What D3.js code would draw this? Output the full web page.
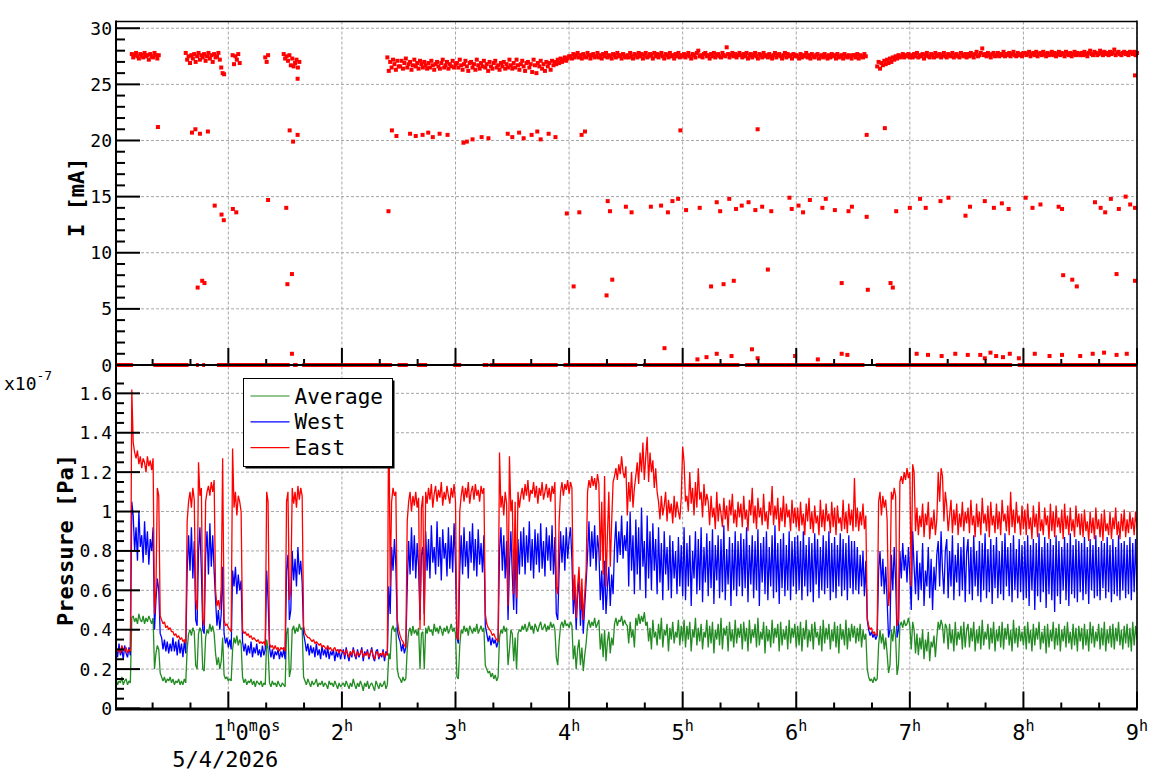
<!DOCTYPE html>
<html>
<head>
<meta charset="utf-8">
<script src="https://cdn.jsdelivr.net/npm/d3@7"></script>
<style>
  body { margin: 0; background: #fff; }
  text { font-family: "DejaVu Sans Mono", monospace; fill: #000; }
</style>
</head>
<body>
<svg id="chart" width="1158" height="782"></svg>
<script>
// everything read every 0.0125 h (45 s), first reading at 0.0125 h (hours after midnight)
const step = 0.0125, firstSample = 0.0125;
const _ = null;

// pressure, units of 1e-7 Pa, one line = half an hour
const eastP = [
  0.31,0.29,0.30,0.28,0.32,0.30,0.29,0.31,0.28,0.30,0.29,1.62,1.35,1.30,1.27,1.31,1.24,1.28,1.22,1.27,1.25,1.20,1.28,1.23,1.26,1.21,1.27,0.48,0.60,1.12,1.08,0.47,0.45,0.43,0.44,0.41,0.42,0.40,0.41,0.39,
  0.39,0.37,0.38,0.36,0.37,0.35,0.36,0.34,0.35,0.33,0.95,1.05,1.10,1.02,1.12,1.06,0.55,0.50,1.25,1.08,1.12,0.45,0.42,1.05,1.10,1.13,1.08,1.15,1.10,1.16,0.60,0.52,0.55,0.50,0.62,1.27,0.45,0.42,0.43,0.41,
  0.40,0.39,1.32,1.02,1.10,0.98,1.08,1.05,1.00,0.40,0.38,0.39,0.37,0.38,0.36,0.37,0.35,0.36,0.35,0.34,0.35,0.33,0.34,0.33,0.34,0.32,1.10,1.05,0.33,0.31,0.32,0.30,0.32,0.30,0.31,0.29,0.31,0.30,0.31,0.29,
  1.05,1.10,0.55,0.60,1.12,1.04,1.10,1.02,1.13,1.06,1.12,1.08,0.42,0.38,0.37,0.36,0.36,0.35,0.34,0.35,0.33,0.34,0.33,0.32,0.33,0.31,0.32,0.31,0.30,0.32,0.30,0.31,0.29,0.30,0.31,0.29,0.30,0.28,0.30,0.29,
  0.29,0.27,0.30,0.28,0.26,0.29,0.27,0.30,0.28,0.26,0.29,0.27,0.28,0.30,0.26,0.28,0.27,0.29,0.26,0.28,0.30,0.27,0.25,0.28,0.29,0.26,0.28,0.27,0.29,0.26,0.28,0.27,1.62,0.62,1.05,1.12,1.08,1.10,0.45,0.40,
  0.37,0.35,0.34,0.32,0.31,0.95,1.05,1.10,1.00,1.08,1.03,1.10,1.02,1.07,0.40,1.02,1.08,0.42,1.10,1.04,1.12,1.06,1.14,1.02,1.09,1.13,1.05,1.11,1.07,1.15,1.03,1.10,1.06,1.13,1.08,1.04,1.12,1.07,1.14,1.05,
  0.36,0.35,1.00,1.08,1.13,1.05,1.12,1.07,1.15,1.04,1.10,1.13,1.06,1.14,1.08,1.11,1.05,1.13,1.09,1.12,0.48,0.43,0.41,0.40,0.39,0.37,0.38,0.36,0.35,0.34,1.30,1.02,1.08,0.98,1.10,1.04,0.52,1.28,1.00,1.06,
  0.58,1.05,0.56,1.10,1.02,1.08,1.12,1.06,1.14,1.08,1.16,1.05,1.11,1.09,1.15,1.07,1.13,1.04,1.12,1.08,1.15,1.06,1.10,1.14,1.07,1.12,1.05,1.13,1.09,1.15,0.62,0.58,0.95,1.10,1.15,1.08,1.14,1.11,1.16,1.09,
  1.15,1.12,0.55,0.68,0.46,0.62,0.72,0.50,0.66,0.45,0.58,0.70,1.10,1.16,1.12,1.18,1.13,1.17,1.11,1.19,1.14,0.75,1.05,0.68,1.18,0.62,0.88,1.10,0.72,0.95,1.15,1.18,1.22,1.16,1.24,1.19,1.28,1.20,1.17,1.23,
  0.98,1.15,1.05,1.20,1.02,1.12,1.18,1.25,1.14,1.30,1.20,1.35,1.16,1.28,1.38,1.15,1.30,1.20,1.26,1.12,1.22,1.10,1.05,0.96,1.08,0.98,1.03,1.10,0.95,1.06,0.99,1.04,0.94,1.08,0.97,1.05,1.00,0.96,1.07,1.33,
  1.25,1.05,1.08,1.00,1.20,1.04,1.12,0.98,1.15,1.02,1.22,1.06,1.10,0.97,1.14,1.03,1.09,1.05,0.93,1.08,0.97,1.02,0.91,1.10,0.95,1.04,0.99,0.92,1.07,0.96,1.03,0.90,1.06,0.98,1.09,0.94,1.01,0.92,1.05,0.97,
  1.04,0.92,1.08,0.96,1.01,0.90,1.06,0.98,1.12,0.94,1.03,0.91,1.07,0.97,1.02,0.93,1.09,0.95,1.00,0.91,1.05,0.98,1.13,0.93,1.03,0.96,1.07,0.90,1.02,0.95,1.08,0.92,1.04,0.97,1.01,0.90,1.06,0.94,1.02,0.92,
  1.02,0.90,1.05,0.93,0.99,0.88,1.04,0.95,1.07,0.91,1.00,0.89,1.03,0.94,0.98,0.88,1.06,0.92,1.01,0.90,1.04,0.95,0.99,0.89,1.05,0.92,1.02,0.88,1.03,0.94,0.97,0.90,1.06,0.91,1.00,0.89,1.04,0.93,1.01,0.90,
  1.17,0.92,1.02,0.90,1.00,0.93,1.04,0.91,0.98,0.46,0.42,0.40,0.41,0.38,0.39,0.37,0.38,1.05,1.10,0.98,1.08,1.02,1.06,0.96,0.52,0.60,1.10,1.06,1.12,1.08,0.42,0.45,1.15,1.18,1.14,1.20,1.16,1.22,1.17,1.20,
  0.62,1.24,1.20,0.90,1.02,0.88,0.98,0.92,1.04,0.87,0.99,0.93,1.05,0.86,0.97,0.91,1.01,0.88,0.96,1.20,1.05,1.22,1.18,0.95,1.10,1.03,0.90,0.98,1.06,0.89,1.01,0.93,1.04,0.88,0.99,0.92,1.05,0.90,1.00,0.94,
  1.02,0.89,1.06,0.93,0.98,0.87,1.04,0.92,1.00,0.88,1.07,0.94,0.99,0.90,1.03,0.87,1.05,0.93,0.98,0.89,1.04,0.91,1.00,0.88,1.06,0.95,0.99,0.90,1.03,0.88,1.10,0.92,1.01,0.89,1.05,0.94,0.98,0.88,1.03,0.91,
  1.01,0.88,1.04,0.91,0.97,0.86,1.03,0.92,0.99,0.87,1.05,0.90,0.96,0.88,1.02,0.93,0.98,0.86,1.04,0.90,1.00,0.87,1.03,0.92,0.97,0.89,1.01,0.86,1.04,0.91,0.98,0.88,1.02,0.90,0.96,0.87,1.03,0.92,0.99,0.88,
  0.99,0.87,1.01,0.90,0.95,0.85,1.00,0.89,0.97,0.86,1.02,0.91,0.96,0.87,0.99,0.85,1.01,0.90,0.94,0.88,1.00,0.86,0.97,0.91,1.02,0.88,0.95,0.86,0.99,0.90,1.01,0.87,0.96,0.89,1.00,0.91,0.97,0.88,1.00,0.92
];
const westP = [
  0.31,0.26,0.33,0.27,0.30,0.25,0.32,0.28,0.26,0.31,0.27,1.05,0.98,0.80,0.92,0.75,1.00,0.82,0.88,0.74,0.95,0.78,0.90,0.73,0.86,0.80,0.92,0.40,0.55,0.66,0.60,0.38,0.36,0.30,0.35,0.29,0.34,0.28,0.33,0.29,
  0.36,0.29,0.34,0.27,0.35,0.28,0.33,0.26,0.34,0.28,0.70,0.88,0.70,0.92,0.66,0.85,0.45,0.42,0.80,0.92,0.70,0.40,0.38,0.78,0.90,0.68,0.94,0.72,0.88,0.70,0.55,0.42,0.50,0.40,0.48,0.72,0.38,0.33,0.36,0.31,
  0.35,0.30,0.70,0.62,0.72,0.58,0.68,0.60,0.65,0.34,0.29,0.33,0.27,0.32,0.28,0.34,0.26,0.31,0.28,0.33,0.27,0.30,0.26,0.32,0.27,0.30,0.70,0.55,0.31,0.26,0.30,0.25,0.29,0.27,0.30,0.25,0.29,0.26,0.30,0.25,
  0.70,0.78,0.45,0.50,0.80,0.65,0.76,0.62,0.82,0.68,0.75,0.64,0.38,0.34,0.29,0.33,0.27,0.32,0.28,0.31,0.26,0.33,0.27,0.30,0.25,0.32,0.27,0.30,0.26,0.31,0.25,0.29,0.27,0.30,0.24,0.29,0.26,0.30,0.25,0.28,
  0.30,0.25,0.31,0.27,0.24,0.29,0.26,0.31,0.27,0.25,0.30,0.26,0.28,0.31,0.24,0.29,0.27,0.30,0.25,0.28,0.31,0.26,0.24,0.29,0.30,0.25,0.28,0.26,0.30,0.24,0.29,0.27,0.62,0.48,0.82,0.70,0.86,0.72,0.40,0.36,
  0.34,0.29,0.33,0.28,0.31,0.62,0.85,0.68,0.92,0.70,0.88,0.66,0.84,0.72,0.45,0.78,0.82,0.48,0.90,0.70,0.86,0.66,0.93,0.74,0.82,0.68,0.95,0.72,0.87,0.65,0.91,0.76,0.84,0.67,0.92,0.71,0.88,0.69,0.94,0.73,
  0.36,0.33,0.70,0.88,0.68,0.92,0.72,0.85,0.66,0.90,0.74,0.94,0.70,0.86,0.67,0.91,0.73,0.84,0.69,0.88,0.42,0.38,0.34,0.37,0.32,0.36,0.33,0.35,0.31,0.34,0.80,0.92,0.70,0.88,0.66,0.85,0.45,0.72,0.90,0.68,
  0.50,0.82,0.48,0.86,0.68,0.90,0.72,0.92,0.68,0.88,0.74,0.95,0.70,0.86,0.66,0.91,0.73,0.89,0.69,0.94,0.71,0.85,0.67,0.92,0.75,0.88,0.70,0.93,0.68,0.87,0.48,0.45,0.70,0.90,0.74,0.88,0.70,0.92,0.76,0.86,
  0.92,0.75,0.48,0.62,0.40,0.58,0.65,0.42,0.60,0.38,0.52,0.64,0.78,0.95,0.72,0.90,0.76,0.93,0.70,0.88,0.80,0.55,0.70,0.50,0.75,0.48,0.62,0.72,0.52,0.68,0.58,0.82,0.95,0.74,0.90,0.78,0.98,0.76,0.88,0.80,
  0.95,0.62,1.00,0.70,0.88,0.58,0.96,0.68,0.92,0.60,1.02,0.72,0.85,0.56,0.98,0.66,0.90,0.60,0.94,0.70,0.86,0.58,0.92,0.64,0.84,0.55,0.90,0.68,0.82,0.60,0.88,0.56,0.85,0.66,0.80,0.58,0.87,0.62,0.83,0.57,
  0.92,0.55,0.84,0.62,0.88,0.52,0.80,0.66,0.90,0.58,0.86,0.60,0.92,0.54,0.82,0.64,0.89,0.57,0.85,0.61,0.91,0.53,0.83,0.65,0.88,0.56,0.86,0.59,0.93,0.55,0.81,0.63,0.87,0.52,0.84,0.60,0.90,0.57,0.85,0.62,
  0.89,0.57,0.86,0.61,0.92,0.54,0.83,0.63,0.88,0.56,0.85,0.60,0.91,0.52,0.84,0.64,0.87,0.58,0.90,0.55,0.82,0.62,0.88,0.56,0.93,0.59,0.84,0.53,0.86,0.61,0.89,0.57,0.83,0.60,0.90,0.55,0.85,0.62,0.87,0.58,
  0.88,0.60,0.85,0.55,0.90,0.62,0.83,0.57,0.87,0.59,0.84,0.54,0.89,0.63,0.86,0.56,0.82,0.60,0.88,0.58,0.85,0.61,0.90,0.55,0.84,0.59,0.87,0.56,0.83,0.62,0.89,0.57,0.86,0.60,0.84,0.55,0.88,0.61,0.85,0.58,
  0.85,0.60,0.82,0.58,0.78,0.62,0.80,0.57,0.75,0.45,0.40,0.37,0.39,0.36,0.38,0.35,0.37,0.70,0.80,0.62,0.76,0.58,0.72,0.55,0.36,0.40,0.78,0.60,0.82,0.65,0.36,0.40,0.80,0.66,0.84,0.70,0.78,0.64,0.82,0.68,
  0.50,0.90,0.72,0.58,0.80,0.55,0.74,0.60,0.84,0.52,0.70,0.62,0.82,0.56,0.76,0.50,0.72,0.60,0.78,0.85,0.62,0.90,0.70,0.58,0.80,0.86,0.56,0.80,0.62,0.88,0.55,0.78,0.64,0.84,0.57,0.82,0.60,0.87,0.54,0.79,
  0.86,0.58,0.82,0.55,0.88,0.62,0.80,0.57,0.85,0.54,0.84,0.60,0.89,0.56,0.81,0.59,0.86,0.53,0.83,0.61,0.87,0.56,0.80,0.58,0.85,0.55,0.89,0.62,0.82,0.57,0.84,0.54,0.88,0.60,0.81,0.56,0.86,0.59,0.83,0.55,
  0.85,0.56,0.88,0.52,0.83,0.60,0.86,0.50,0.84,0.57,0.89,0.54,0.82,0.59,0.87,0.51,0.84,0.58,0.86,0.55,0.83,0.49,0.88,0.57,0.85,0.53,0.82,0.60,0.87,0.55,0.84,0.52,0.89,0.58,0.83,0.56,0.86,0.54,0.85,0.59,
  0.84,0.55,0.87,0.58,0.82,0.53,0.86,0.60,0.83,0.56,0.88,0.57,0.82,0.55,0.85,0.61,0.84,0.56,0.87,0.59,0.83,0.54,0.86,0.58,0.82,0.57,0.88,0.55,0.84,0.60,0.85,0.56,0.83,0.58,0.87,0.55,0.84,0.59,0.86,0.60
];
const avgP = [
  0.15,0.12,0.14,0.13,0.16,0.12,0.14,0.15,0.12,0.14,0.13,0.46,0.47,0.44,0.46,0.43,0.48,0.45,0.44,0.47,0.43,0.46,0.44,0.47,0.45,0.43,0.46,0.20,0.28,0.32,0.30,0.18,0.16,0.14,0.16,0.13,0.15,0.14,0.16,0.13,
  0.15,0.12,0.14,0.13,0.15,0.12,0.14,0.12,0.15,0.13,0.30,0.38,0.40,0.37,0.41,0.39,0.22,0.20,0.38,0.41,0.39,0.20,0.19,0.36,0.40,0.38,0.43,0.39,0.42,0.38,0.28,0.22,0.26,0.20,0.24,0.36,0.17,0.15,0.16,0.14,
  0.15,0.14,0.30,0.36,0.33,0.37,0.32,0.35,0.33,0.16,0.13,0.15,0.12,0.14,0.13,0.15,0.12,0.14,0.11,0.14,0.13,0.12,0.14,0.11,0.13,0.12,0.35,0.30,0.13,0.11,0.14,0.12,0.13,0.11,0.14,0.12,0.11,0.13,0.12,0.11,
  0.38,0.41,0.16,0.20,0.40,0.42,0.38,0.41,0.39,0.43,0.40,0.41,0.16,0.14,0.12,0.15,0.13,0.11,0.14,0.12,0.13,0.15,0.11,0.13,0.12,0.14,0.11,0.13,0.12,0.10,0.14,0.12,0.13,0.11,0.14,0.12,0.10,0.13,0.11,0.12,
  0.13,0.11,0.14,0.12,0.10,0.13,0.11,0.15,0.12,0.10,0.13,0.11,0.14,0.12,0.09,0.13,0.11,0.14,0.10,0.12,0.13,0.11,0.09,0.14,0.12,0.10,0.13,0.11,0.12,0.14,0.10,0.12,0.28,0.25,0.40,0.42,0.39,0.41,0.20,0.16,
  0.15,0.13,0.16,0.14,0.15,0.30,0.39,0.41,0.37,0.42,0.38,0.40,0.37,0.41,0.20,0.38,0.39,0.20,0.41,0.38,0.42,0.39,0.40,0.37,0.43,0.39,0.41,0.38,0.42,0.40,0.37,0.41,0.39,0.42,0.38,0.40,0.43,0.39,0.41,0.38,
  0.16,0.15,0.32,0.40,0.38,0.42,0.39,0.41,0.37,0.42,0.40,0.38,0.41,0.39,0.43,0.38,0.40,0.42,0.39,0.41,0.22,0.20,0.18,0.19,0.16,0.18,0.15,0.17,0.14,0.16,0.36,0.40,0.38,0.42,0.39,0.41,0.22,0.30,0.40,0.38,
  0.24,0.36,0.20,0.38,0.40,0.39,0.42,0.40,0.43,0.39,0.41,0.44,0.40,0.42,0.38,0.43,0.41,0.39,0.42,0.44,0.40,0.41,0.43,0.39,0.42,0.40,0.44,0.41,0.43,0.40,0.26,0.22,0.34,0.42,0.44,0.41,0.45,0.42,0.43,0.41,
  0.44,0.42,0.25,0.32,0.20,0.30,0.35,0.22,0.31,0.19,0.27,0.33,0.42,0.45,0.41,0.44,0.42,0.46,0.41,0.43,0.45,0.30,0.38,0.26,0.40,0.24,0.34,0.39,0.28,0.36,0.32,0.43,0.46,0.42,0.45,0.44,0.47,0.42,0.45,0.43,
  0.42,0.33,0.44,0.36,0.40,0.31,0.46,0.42,0.48,0.43,0.47,0.44,0.49,0.42,0.44,0.34,0.41,0.30,0.45,0.36,0.39,0.32,0.43,0.35,0.46,0.31,0.40,0.37,0.43,0.29,0.41,0.35,0.44,0.33,0.39,0.36,0.45,0.32,0.42,0.34,
  0.45,0.31,0.42,0.35,0.44,0.29,0.40,0.36,0.46,0.32,0.41,0.34,0.43,0.30,0.39,0.36,0.45,0.31,0.42,0.33,0.44,0.28,0.40,0.35,0.43,0.32,0.46,0.30,0.41,0.37,0.42,0.29,0.44,0.34,0.40,0.31,0.45,0.33,0.41,0.36,
  0.43,0.30,0.44,0.34,0.41,0.29,0.45,0.33,0.40,0.36,0.43,0.31,0.46,0.32,0.39,0.35,0.44,0.28,0.42,0.34,0.40,0.31,0.45,0.33,0.41,0.36,0.43,0.29,0.44,0.32,0.40,0.35,0.42,0.30,0.45,0.33,0.41,0.36,0.43,0.31,
  0.42,0.32,0.44,0.29,0.41,0.35,0.45,0.31,0.40,0.34,0.43,0.30,0.44,0.36,0.39,0.32,0.42,0.29,0.45,0.33,0.41,0.35,0.43,0.30,0.40,0.34,0.44,0.31,0.42,0.28,0.43,0.35,0.40,0.32,0.45,0.30,0.41,0.34,0.43,0.36,
  0.42,0.33,0.41,0.34,0.43,0.31,0.40,0.35,0.38,0.20,0.16,0.14,0.15,0.13,0.16,0.14,0.15,0.32,0.40,0.33,0.38,0.30,0.36,0.28,0.18,0.22,0.40,0.34,0.42,0.36,0.17,0.22,0.42,0.44,0.41,0.45,0.42,0.43,0.46,0.42,
  0.30,0.44,0.40,0.28,0.38,0.27,0.36,0.30,0.40,0.25,0.35,0.29,0.39,0.24,0.34,0.31,0.37,0.26,0.36,0.44,0.40,0.45,0.42,0.33,0.43,0.41,0.30,0.43,0.33,0.40,0.29,0.44,0.32,0.39,0.35,0.42,0.30,0.44,0.31,0.40,
  0.43,0.31,0.41,0.34,0.44,0.29,0.40,0.33,0.42,0.30,0.45,0.32,0.39,0.35,0.43,0.30,0.41,0.33,0.44,0.29,0.40,0.34,0.42,0.31,0.44,0.30,0.41,0.35,0.43,0.32,0.40,0.29,0.45,0.33,0.41,0.31,0.42,0.34,0.39,0.32,
  0.42,0.30,0.44,0.33,0.40,0.29,0.43,0.32,0.41,0.35,0.44,0.30,0.39,0.33,0.42,0.28,0.43,0.31,0.40,0.34,0.44,0.30,0.41,0.32,0.43,0.29,0.40,0.34,0.42,0.31,0.44,0.33,0.39,0.30,0.43,0.32,0.41,0.29,0.42,0.34,
  0.41,0.30,0.43,0.32,0.40,0.29,0.44,0.33,0.42,0.31,0.39,0.34,0.43,0.30,0.41,0.32,0.44,0.29,0.40,0.33,0.42,0.31,0.43,0.30,0.41,0.34,0.44,0.32,0.40,0.30,0.42,0.33,0.43,0.31,0.41,0.29,0.44,0.32,0.42,0.35
];

// beam current [mA], null where no reading, one line = half an hour
const beamI = [
  _,_,_,_,_,_,_,_,_,_,_,27.7,27.4,27.6,27.8,27.5,27.3,27.7,27.6,27.4,27.8,27.5,27.6,27.2,27.7,27.5,27.4,27.8,27.6,27.3,27.6,_,_,_,_,_,_,_,_,_,
  _,_,_,_,_,_,_,_,_,27.8,27.2,27.5,26.9,27.6,27.3,27.7,27.0,27.5,27.8,27.2,27.6,27.4,27.7,27.1,27.5,27.8,27.3,27.6,27.0,27.7,27.4,27.5,27.8,27.2,26.5,26.0,25.9,_,_,_,
  _,_,27.6,26.8,27.5,27.2,27.7,26.9,_,_,_,_,_,_,_,_,_,_,_,_,_,_,_,_,_,27.4,27.0,27.6,_,_,_,_,_,_,_,_,_,_,27.7,27.3,
  27.5,27.1,27.6,26.7,27.3,26.6,26.9,27.2,26.5,27.0,_,_,_,_,_,_,_,_,_,_,_,_,_,_,_,_,_,_,_,_,_,_,_,_,_,_,_,_,_,_,
  _,_,_,_,_,_,_,_,_,_,_,_,_,_,_,_,_,_,_,_,_,_,_,_,_,_,_,_,_,_,_,27.4,26.2,27.0,26.5,27.2,26.8,26.3,27.1,26.6,
  26.6,27.1,26.4,26.9,27.3,26.5,26.8,27.0,26.3,26.7,27.2,26.6,26.9,26.4,27.1,26.8,26.5,27.0,26.7,26.4,26.9,26.5,27.1,26.7,26.3,26.8,27.0,26.6,26.4,26.9,27.2,26.5,26.7,27.0,26.4,26.8,26.6,27.1,26.5,26.8,
  26.9,26.5,27.2,26.7,26.3,26.8,27.1,26.6,26.2,26.9,27.0,26.5,26.8,26.3,27.2,26.7,26.4,26.9,26.6,27.1,26.5,26.8,26.2,27.0,26.6,26.4,26.9,27.1,26.5,26.7,26.3,26.9,26.6,27.0,26.4,26.8,26.5,27.2,26.7,26.4,
  26.9,26.5,27.2,26.7,26.3,26.8,27.1,26.6,26.2,26.9,27.0,26.5,26.8,26.1,27.2,26.7,26.0,26.9,26.6,27.1,26.4,26.8,26.2,27.0,26.6,26.9,26.3,27.1,26.7,27.0,26.8,27.2,26.9,27.3,27.0,27.2,27.4,27.1,27.3,27.5,
  27.5,27.3,27.7,27.4,27.6,27.8,27.4,27.6,27.3,27.7,27.5,27.4,27.8,27.6,27.3,27.6,27.7,27.4,27.5,27.8,27.4,27.6,27.3,27.7,27.5,27.8,27.4,27.6,27.5,27.3,27.7,27.6,27.4,27.8,27.5,27.6,27.3,27.7,27.5,27.4,
  27.6,27.4,27.8,27.5,27.3,27.7,27.6,27.4,27.8,27.5,27.7,27.3,27.6,27.8,27.4,27.5,27.7,27.6,27.3,27.8,27.5,27.7,27.4,27.6,27.8,27.5,27.3,27.7,27.6,27.4,27.8,27.5,27.6,27.3,27.7,27.5,27.8,27.4,27.6,27.5,
  27.7,27.4,27.6,27.8,27.5,27.3,27.7,27.6,27.4,27.8,28.0,27.5,27.6,27.4,27.7,27.8,27.5,27.6,27.3,27.7,27.5,27.8,27.4,27.6,27.7,27.5,27.4,27.8,27.6,27.5,28.3,27.7,27.4,27.6,27.8,27.5,27.7,27.4,27.6,27.8,
  27.6,27.4,27.7,27.5,27.8,27.3,27.6,27.7,27.4,27.6,27.8,27.5,27.3,27.7,27.6,27.4,27.8,27.5,27.6,27.4,27.7,27.5,27.3,27.6,27.8,27.4,27.6,27.7,27.5,27.3,27.6,27.8,27.4,27.7,27.5,27.6,27.3,27.7,27.5,27.6,
  27.5,27.3,27.7,27.4,27.6,27.5,27.8,27.4,27.6,27.3,27.7,27.5,27.4,27.6,27.7,27.3,27.5,27.6,27.4,27.7,27.5,27.3,27.6,27.4,27.7,27.5,27.6,27.3,27.7,27.4,27.5,27.6,27.3,27.7,27.5,27.4,27.6,27.5,27.3,27.6,
  27.6,27.4,27.7,27.3,27.6,27.5,27.4,27.7,27.5,_,_,_,_,_,_,_,26.6,27.0,26.4,26.9,26.7,27.1,26.8,27.2,26.9,27.3,27.0,27.4,27.2,27.5,27.3,27.6,27.4,27.5,27.7,27.4,27.6,27.5,27.7,27.4,
  27.6,27.4,27.7,27.5,27.8,27.4,27.6,27.5,27.7,27.3,27.6,27.8,27.5,27.4,27.7,27.6,27.4,27.8,27.5,27.6,27.7,27.4,27.6,27.8,27.5,27.4,27.7,27.6,27.5,27.8,27.4,27.6,27.7,27.5,27.4,27.8,27.6,27.5,27.7,27.4,
  27.7,27.5,27.8,27.6,27.4,27.7,27.9,27.5,27.6,27.8,28.2,27.6,27.7,27.5,27.8,27.6,27.4,27.7,27.8,27.5,27.6,27.8,27.5,27.7,27.6,27.9,27.5,27.7,27.6,27.8,27.5,27.7,27.9,27.6,27.5,27.8,27.6,27.7,27.5,27.8,
  27.8,27.6,27.7,27.9,27.5,27.7,27.8,27.6,27.9,27.5,27.7,27.8,27.6,27.9,27.7,27.5,27.8,27.6,27.7,27.9,27.6,27.8,27.5,27.7,27.9,27.6,27.8,27.7,27.5,27.9,27.7,27.6,27.8,27.5,27.7,27.9,27.6,27.8,27.7,27.6,
  27.8,27.6,27.9,27.7,27.5,27.8,28.0,27.7,27.6,27.9,27.8,27.6,27.7,28.0,27.8,27.6,27.9,27.7,27.8,27.6,27.9,27.7,27.8,28.1,27.6,27.8,27.9,27.7,27.6,27.8,27.9,27.7,27.8,27.6,27.9,27.8,27.7,27.9,27.6,27.8
];

// isolated current readings off the main band
const strayT = [
  0.38,0.68,0.71,0.75,0.82,1.54,1.57,1.61,2.44,2.48,2.60,2.65,2.71,2.76,2.80,2.86,2.93,3.07,3.10,3.15,
  3.23,3.29,3.46,3.50,3.56,3.60,3.67,3.72,3.75,3.82,3.88,4.11,4.14,4.98,5.66,6.62,6.78,
  0.88,0.94,0.96,1.04,1.07,1.35,1.51,2.41,3.98,4.09,4.34,4.36,4.50,4.55,4.72,4.81,4.87,4.91,4.96,5.03,
  5.15,5.30,5.33,5.41,5.47,5.52,5.58,5.64,5.70,5.78,5.94,5.96,6.02,6.06,6.12,6.23,6.26,6.34,6.46,6.49,
  6.62,6.88,7.00,7.09,7.14,7.27,7.34,7.49,7.53,7.66,7.74,7.81,7.87,8.02,8.08,8.15,8.31,8.34,8.63,8.68,
  8.72,8.77,8.84,8.90,8.94,8.99,
  0.73,0.77,0.79,1.52,1.56,4.04,4.33,4.38,5.25,5.36,5.45,5.75,6.40,6.63,6.83,6.85,8.35,8.43,8.47,8.82,8.99,
  1.56,4.84,5.13,5.21,5.30,5.43,5.61,5.66,5.99,6.19,6.40,6.45,7.06,7.16,7.28,7.40,7.51,7.62,7.66,7.71,
  7.76,7.82,7.88,7.96,8.10,8.23,8.34,8.50,8.61,8.71,8.82,8.91,
  1.61,8.995
];
const strayI = [
  21.2,20.7,21.0,20.6,20.8,20.9,19.9,20.5,20.9,20.4,20.6,20.4,20.5,20.7,20.3,20.6,20.5,19.8,19.9,20.1,
  20.3,20.2,20.6,20.3,20.7,20.2,20.5,20.8,20.1,20.6,20.3,20.5,20.8,20.9,21.0,20.5,21.1,
  14.2,13.4,12.9,13.9,13.6,14.7,14.0,13.7,13.5,13.6,14.6,13.7,14.1,13.6,14.1,14.2,13.6,14.6,14.8,13.8,
  14.0,14.5,13.7,14.8,13.9,14.2,14.5,13.8,14.1,13.7,14.9,13.9,14.2,13.6,14.7,14.0,14.8,13.8,13.7,14.1,
  13.2,13.7,14.0,14.8,14.0,14.6,14.9,13.3,14.1,14.6,14.0,14.4,13.9,14.9,14.0,14.3,14.1,13.9,14.5,14.0,
  13.6,14.8,13.9,15.0,14.3,14.0,
  6.9,7.5,7.3,7.2,8.1,7.0,6.2,7.6,7.0,7.2,7.5,8.5,7.3,6.7,7.3,6.9,8.0,7.6,7.0,8.1,7.5,
  1.0,1.5,0.5,0.7,1.0,0.8,1.4,0.6,0.8,0.5,1.0,0.9,1.0,0.9,0.8,1.0,0.9,0.9,0.6,1.1,
  0.8,0.7,1.0,0.6,1.0,0.8,0.9,0.8,1.0,1.1,0.9,1.0,
  25.5,25.8
];

// stretches [from h, to h] where the current read zero
const zeroRuns = [
  [0.011,0.16],[0.34,0.65],[0.715,0.74],[0.77,0.795],[0.90,1.54],[1.57,1.61],[1.65,2.44],
  [2.49,2.58],[2.66,2.75],[2.98,3.05],[3.24,3.29],[3.30,3.90],[3.95,4.60],[4.65,5.50],
  [5.55,6.60],[6.70,7.90],[7.95,9.0]
];

const seriesNames = ['Average', 'West', 'East'];
const seriesColors = ['#228b22', '#0000ff', '#ff0000'];
const currentTicks = [0, 5, 10, 15, 20, 25, 30];
const pressureTicks = ['0', '0.2', '0.4', '0.6', '0.8', '1', '1.2', '1.4', '1.6'];
const hourTicks = [1, 2, 3, 4, 5, 6, 7, 8, 9];
const dateLabel = '5/4/2026';

const svg = d3.select('#chart');
const left = 116, right = 1137, topY = 21.5, midY = 365, botY = 708.5;

const x = d3.scaleLinear().domain([0.011, 9]).range([left, right]);
const yI = d3.scaleLinear().domain([0, 30.6]).range([midY, topY]);
const yP = d3.scaleLinear().domain([0, 1.65]).range([botY, 383.5]);
const sampleT = i => firstSample + i * step;

svg.append('rect').attr('width', 1158).attr('height', 782).attr('fill', '#fff');

// grid
const grid = svg.append('g')
  .attr('stroke', '#a6a6a6').attr('stroke-width', 1).attr('stroke-dasharray', '3,2');
hourTicks.forEach(h => {
  grid.append('line').attr('x1', x(h)).attr('x2', x(h)).attr('y1', topY).attr('y2', botY);
});
currentTicks.forEach(v => {
  grid.append('line').attr('x1', left).attr('x2', right).attr('y1', yI(v)).attr('y2', yI(v));
});
pressureTicks.forEach(v => {
  grid.append('line').attr('x1', left).attr('x2', right).attr('y1', yP(+v)).attr('y2', yP(+v));
});

// top pad: beam current
const cur = svg.append('g').attr('fill', '#ff0000');
zeroRuns.forEach(([a, b]) => {
  cur.append('rect').attr('x', x(a)).attr('y', yI(0) - 2)
    .attr('width', x(b) - x(a)).attr('height', 4);
});
beamI.forEach((v, i) => {
  if (v === null) return;
  cur.append('rect').attr('x', x(sampleT(i)) - 2).attr('y', yI(v) - 2)
    .attr('width', 4).attr('height', 4);
});
strayT.forEach((t, i) => {
  cur.append('rect').attr('x', Math.min(x(t), right - 2) - 2).attr('y', yI(strayI[i]) - 2)
    .attr('width', 4).attr('height', 4);
});

// bottom pad: pressure
svg.append('clipPath').attr('id', 'pclip')
  .append('rect').attr('x', left).attr('y', midY).attr('width', right - left).attr('height', botY - midY);

const line = d3.line()
  .x((d, i) => x(sampleT(i)))
  .y(d => yP(d));

const lines = svg.append('g').attr('clip-path', 'url(#pclip)');
[avgP, westP, eastP].forEach((s, j) => {
  lines.append('path').datum(s)
    .attr('d', line)
    .attr('fill', 'none')
    .attr('stroke', seriesColors[j])
    .attr('stroke-width', 1.3)
    .attr('stroke-linejoin', 'bevel');
});

// frame and axes
const ax = svg.append('g').attr('stroke', '#000');
ax.append('line').attr('x1', left).attr('x2', left).attr('y1', topY - 1).attr('y2', botY + 2).attr('stroke-width', 2);
ax.append('line').attr('x1', right).attr('x2', right).attr('y1', topY - 1).attr('y2', botY + 2).attr('stroke-width', 1.6);
ax.append('line').attr('x1', left).attr('x2', right).attr('y1', topY).attr('y2', topY).attr('stroke-width', 1.6);
ax.append('line').attr('x1', left).attr('x2', right).attr('y1', midY).attr('y2', midY).attr('stroke-width', 2);
ax.append('line').attr('x1', left).attr('x2', right).attr('y1', botY + 0.5).attr('y2', botY + 0.5).attr('stroke-width', 3);

// y ticks, top pad
d3.range(0, 31).forEach(v => {
  const major = v % 5 === 0;
  ax.append('line').attr('x1', left).attr('x2', left + (major ? 24 : 9))
    .attr('y1', yI(v)).attr('y2', yI(v)).attr('stroke-width', 2);
});
// y ticks, bottom pad (minor every 0.05)
d3.range(0, 34).forEach(k => {
  const major = k % 4 === 0;
  const v = k * 0.05;
  ax.append('line').attr('x1', left).attr('x2', left + (major ? 24 : 8))
    .attr('y1', yP(v)).attr('y2', yP(v)).attr('stroke-width', 2);
});
// x ticks, every 20 min, both pads
d3.range(1, 28).forEach(k => {
  const major = k % 3 === 0;
  const xx = x(k / 3);
  [midY, botY].forEach(base => {
    ax.append('line').attr('x1', xx).attr('x2', xx)
      .attr('y1', base).attr('y2', base - (major ? 17 : 6)).attr('stroke-width', 2);
  });
});

// tick labels
const labels = svg.append('g');
currentTicks.forEach(v => {
  labels.append('text').attr('x', 112).attr('y', yI(v) + 6.5)
    .attr('text-anchor', 'end').attr('font-size', 18).text(v);
});
pressureTicks.forEach(v => {
  labels.append('text').attr('x', 112).attr('y', yP(+v) + 6.5)
    .attr('text-anchor', 'end').attr('font-size', 18).text(v);
});

const expo = labels.append('text').attr('x', 4).attr('y', 390).attr('font-size', 18);
expo.append('tspan').text('x10');
expo.append('tspan').attr('font-size', 13).attr('dy', -10).text('-7');

hourTicks.forEach(h => {
  const t = labels.append('text').attr('y', 740).attr('font-size', 22);
  let parts;
  if (h === 1) {
    t.attr('x', x(h) - 15).attr('text-anchor', 'start');
    parts = [['1', 0], ['h', -9], ['0', 9], ['m', -9], ['0', 9], ['s', -9]];
  } else {
    t.attr('x', x(h)).attr('text-anchor', 'middle');
    parts = [[String(h), 0], ['h', -9]];
  }
  parts.forEach(([s, dy]) => {
    t.append('tspan').attr('dy', dy).attr('font-size', dy < 0 ? 15 : 22).text(s);
  });
});
labels.append('text').attr('x', x(1) - 3).attr('y', 767).attr('text-anchor', 'middle')
  .attr('font-size', 22).text(dateLabel);

// axis titles
labels.append('text').attr('transform', `translate(84,${(topY + midY) / 2 + 4}) rotate(-90)`)
  .attr('text-anchor', 'middle').attr('font-size', 22).attr('font-weight', 'bold').text('I [mA]');
labels.append('text').attr('transform', 'translate(73,540) rotate(-90)')
  .attr('text-anchor', 'middle').attr('font-size', 22).attr('font-weight', 'bold').text('Pressure [Pa]');

// legend
const lg = svg.append('g').attr('transform', 'translate(243.5,378.5)');
lg.append('rect').attr('x', 2).attr('y', 2).attr('width', 149).attr('height', 88).attr('fill', '#000');
lg.append('rect').attr('width', 149).attr('height', 88).attr('fill', '#fff')
  .attr('stroke', '#000').attr('stroke-width', 1);
seriesNames.forEach((name, j) => {
  const yy = 17.5 + j * 25.8;
  lg.append('line').attr('x1', 7).attr('x2', 46).attr('y1', yy).attr('y2', yy)
    .attr('stroke', seriesColors[j]).attr('stroke-width', 1.2);
  lg.append('text').attr('x', 51).attr('y', yy + 7.5).attr('font-size', 21).text(name);
});
</script>
</body>
</html>
